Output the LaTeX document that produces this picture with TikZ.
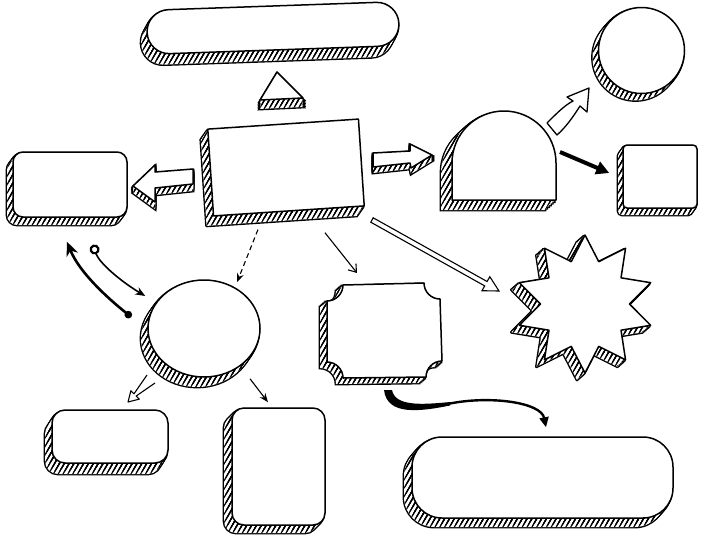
\documentclass[tikz,border=0pt]{standalone}
\usepackage{tikz}
\usetikzlibrary{shadows,patterns.meta,arrows.meta,calc,shapes.geometric}
\tikzset{
  hatch/.style={pattern={Lines[angle=60,distance=4.2pt,line width=1.1pt]}},
  exline/.style n args={3}{general shadow={shadow xshift=#1pt*#3, shadow yshift=#2pt*#3, draw, line width=2.8pt}},
  exfill/.style n args={3}{general shadow={shadow xshift=#1pt*#3, shadow yshift=#2pt*#3, fill=white}},
  exhatch/.style n args={3}{general shadow={shadow xshift=#1pt*#3, shadow yshift=#2pt*#3, hatch}},
  sketch/.style args={#1/#2}{
    exline={#1}{#2}{1}, exline={#1}{#2}{0.833}, exline={#1}{#2}{0.667},
    exline={#1}{#2}{0.5}, exline={#1}{#2}{0.333}, exline={#1}{#2}{0.167},
    exfill={#1}{#2}{1}, exfill={#1}{#2}{0.833}, exfill={#1}{#2}{0.667},
    exfill={#1}{#2}{0.5}, exfill={#1}{#2}{0.333}, exfill={#1}{#2}{0.167},
    exhatch={#1}{#2}{1}, exhatch={#1}{#2}{0.833}, exhatch={#1}{#2}{0.667},
    exhatch={#1}{#2}{0.5}, exhatch={#1}{#2}{0.333}, exhatch={#1}{#2}{0.167},
    draw, line width=1.5pt, fill=white, line join=round, inner sep=0pt},
  sketch/.default={-6/-8},
  dasharrow/.style={line width=1.1pt, dash pattern=on 5pt off 3.5pt, -{Stealth[length=9pt,width=7pt]}},
  thinarrow/.style={line width=1.1pt, -{Straight Barb[length=7pt,width=10pt]}},
  thinfill/.style={line width=1.1pt, -{Stealth[length=9pt,width=7pt]}},
  boldarrow/.style={line width=4pt, -{Triangle[length=13pt,width=13pt]}},
  heavyarrow/.style={line width=2.6pt, {Circle[length=7.5pt]}-{Stealth[length=14pt,width=12pt]}},
  lightarrow/.style={line width=1.6pt, {Circle[open,length=10pt,width=10pt,line width=2.2pt]}-{Stealth[length=10pt,width=8pt]}},
  curvearrow/.style={line width=2.4pt, -{Triangle[length=10pt,width=9pt]}},
  hollow/.style={line width=1.1pt, fill=white, line join=round}
}
\begin{document}
\begin{tikzpicture}[x=1pt,y=-1pt]
    \useasboundingbox (0,0) rectangle (704,558);
    % Boxes with hatched sides
    \node[sketch=-6/-11, minimum width=252pt, minimum height=44pt, rounded corners=22pt, rotate=2] (goal) at (273,28) {};
    \draw[sketch=0/-9] (277,72) -- (303,98) -- (260,100) -- cycle;
    \node[sketch=-7/-10, minimum width=151pt, minimum height=87pt, rotate=3.8] (main) at (286,167.5) {};
    \node[sketch=-6/-8, minimum width=114pt, minimum height=65pt, rounded corners=10pt] (lbox) at (70,184.5) {};
    \draw[sketch=0/-7] (193,169) -- (155,172) -- (155,165) -- (133,186) -- (155,202) -- (155,188) -- (193,184) -- cycle;
    \draw[sketch=0/-6] (373,153) -- (410,151) -- (410,144) -- (432,155) -- (411,168) -- (410,163) -- (373,167) -- cycle;
    \draw[sketch=-11/-10] (452,200) -- (452,163) arc[start angle=180, end angle=360, radius=52] -- (556,200) -- cycle;
    \coordinate (dome) at (504,160);
    \node[sketch=-6/-7, circle, minimum size=86pt] (moon) at (641.5,50.5) {};
    \node[sketch=-5/-7, minimum width=74pt, minimum height=63pt, rounded corners=4pt] (rbox) at (660,176.5) {};
    \node[sketch=-7/-10, ellipse, minimum width=112pt, minimum height=97pt] (hub) at (204,328.5) {};
    \node[sketch=-7/-11, minimum width=116pt, minimum height=53pt, rounded corners=13pt] (lowleft) at (110,436.5) {};
    \node[sketch=-8/-8, minimum width=93pt, minimum height=117pt, rounded corners=12pt] (lowmid) at (278.5,466.5) {};
    \draw[sketch=-7/-6] (343,285) -- (424,283) arc[start angle=180, end angle=90, radius=16]
        -- (442,361) arc[start angle=270, end angle=180, radius=16]
        -- (343,378) arc[start angle=0, end angle=-90, radius=16]
        -- (327,301) arc[start angle=90, end angle=0, radius=16] -- cycle;
    \coordinate (frame) at (384,330);
    \node[sketch=-8/-7, star, star points=10, star point ratio=1.55, minimum size=138pt] (burst) at (585,304) {};
    \node[sketch=-8/-9, minimum width=261pt, minimum height=81pt, rounded corners=30pt] (lowright) at (542.5,477.5) {};
    % Connectors
    \draw[dasharrow] ($(main.south)+(-31,18)$) -- ($(hub.north)+(33,3)$);
    \draw[thinarrow] ($(main.south)+(36,21)$) -- ($(frame)+(-27,-57)$);
    \draw[hollow, line join=miter] (373.2,217.8) -- (487.1,281.5) -- (489.8,276.7) -- (499,291) -- (482.0,290.7) -- (484.7,285.9) -- (370.8,222.2) -- cycle;
    \draw[boldarrow] ($(dome)+(56,-8)$) -- ($(rbox.west)+(-13,-3.5)$);
    \draw[hollow, line width=1.3pt] (547,123) .. controls (557,113) and (565,105) .. (573,101) -- (567,97) -- (589,88) -- (587,112) -- (580,106) .. controls (573,117) and (566,127) .. (557,135) -- cycle;
    \draw[heavyarrow] ($(hub.west)+(-16,-11.5)$) .. controls +(-25,-20) and +(12,30) .. ($(lbox.south)+(-3,24)$);
    \draw[lightarrow] ($(lbox.south)+(23,27)$) .. controls +(6,18) and +(-25,-15) .. ($(hub.west)+(-2,-32.5)$);
    \draw[hollow] (147,375) -- (134,393.8) -- (130.9,390.7) -- (128,402) -- (139.3,399.1) -- (136.2,396) -- (155,383);
    \draw[thinfill] ($(hub.south)+(46,1)$) -- ($(lowmid.north)+(-10.5,-5)$);
    \coordinate (bend) at (450,403.5);
    \fill ($(frame)+(0,60)$) .. controls +(3,26) and +(-30,6) .. ($(bend)+(0,2)$)
        -- ($(bend)+(0,-1.5)$) .. controls +(-30,3) and +(3,16) .. ($(frame)+(8,60)$) -- cycle;
    \draw[curvearrow] (bend) .. controls +(40,-8) and +(-5,-25) .. ($(lowright.north)+(3.5,-9)$);
\end{tikzpicture}
\end{document}
